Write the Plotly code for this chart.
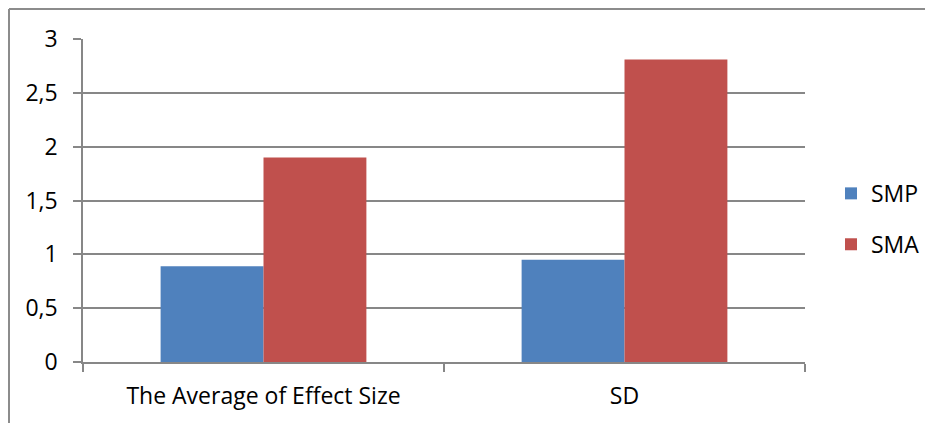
import plotly.graph_objects as go

categories = ["The Average of Effect Size", "SD"]
smp_values = [0.89, 0.95]
sma_values = [1.9, 2.81]
y_tick_vals = [0, 0.5, 1, 1.5, 2, 2.5, 3]
y_tick_text = ["0", "0,5", "1", "1,5", "2", "2,5", "3"]

FONT = "Open Sans"
GRID = "#878787"
FS = 23

fig = go.Figure()
fig.add_trace(go.Bar(name="SMP", x=categories, y=smp_values, marker_color="#4F81BD",
                     marker_line_width=0, legendgroup="a"))
fig.add_trace(go.Bar(name="SMA", x=categories, y=sma_values, marker_color="#C0504D",
                     marker_line_width=0, legendgroup="b"))

PW, PH = 722, 323
fig.update_layout(
    width=925, height=415,
    margin=dict(l=75, r=128, t=31, b=61, autoexpand=False),
    paper_bgcolor="white", plot_bgcolor="white",
    barmode="group", bargap=0.43, bargroupgap=0,
    font=dict(family=FONT, size=FS, color="black"),
    showlegend=True,
    legend=dict(x=1.036, y=0.443, xanchor="left", yanchor="middle",
                font=dict(size=FS), tracegroupgap=18, itemwidth=30),
    xaxis=dict(showline=True, linecolor=GRID, linewidth=1.5,
               ticks="outside", tickson="boundaries", ticklen=8, tickcolor=GRID,
               tickwidth=1.5, showgrid=False, tickfont=dict(size=FS),
               ticklabelstandoff=13),
    yaxis=dict(range=[0, 3], tickvals=y_tick_vals, ticktext=y_tick_text,
               showline=True, linecolor=GRID, linewidth=1.5,
               ticks="outside", ticklen=8, tickcolor=GRID, tickwidth=1.5,
               showgrid=True, gridcolor=GRID, gridwidth=1.5, zeroline=False,
               tickfont=dict(size=FS), ticklabelstandoff=11),
    shapes=[
        dict(type="line", xref="paper", yref="paper", x0=-74/PW, x1=1.3, y0=1+30/PH, y1=1+30/PH,
             line=dict(color="#8c8c8c", width=2)),
        dict(type="line", xref="paper", yref="paper", x0=-74/PW, x1=-74/PW, y0=-0.3, y1=1+30/PH,
             line=dict(color="#8c8c8c", width=2)),
    ],
)

fig.write_html("out.html")
